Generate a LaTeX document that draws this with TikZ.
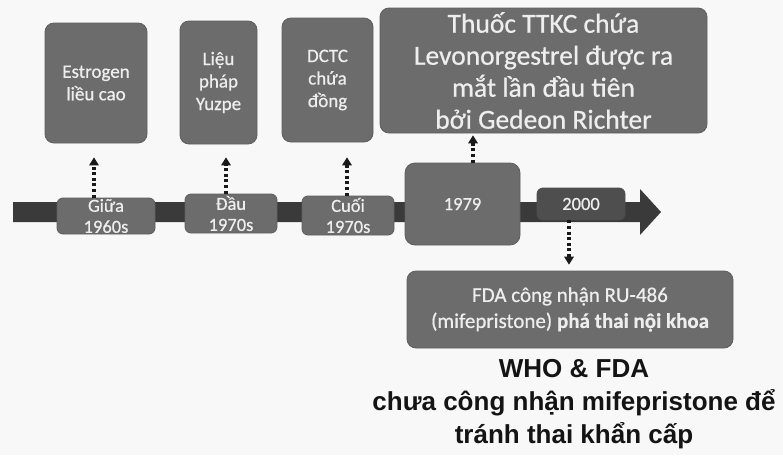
\documentclass[tikz,border=0pt]{standalone}
\usepackage{fontspec}
\setmainfont{Carlito}[FakeBold=0.6]
\newfontfamily\arialf{Liberation Sans}
\usetikzlibrary{arrows.meta,calc}
\definecolor{bg}{HTML}{F8F8F8}
\definecolor{boxgray}{HTML}{6C6C6C}
\definecolor{boxedge}{HTML}{5E5E5E}
\definecolor{bargray}{HTML}{3A3A3A}
\definecolor{darkbox}{HTML}{4E4E4E}
\definecolor{txtw}{HTML}{EEEEEE}
\tikzset{
  gbox/.style={fill=boxgray, draw=boxedge, line width=0.8pt, rounded corners=9pt,
    text=txtw, align=center, inner sep=2pt},
  conn/.style={draw=black!90, line width=3.2pt, dash pattern=on 3pt off 2.6pt,
    -{Triangle[width=10pt,length=8pt,line width=0pt]}},
  bartext/.style={font=\fontsize{18.5}{21}\selectfont},
  toptext/.style={font=\fontsize{19}{22.5}\selectfont},
}
\begin{document}
\begin{tikzpicture}[x=1pt,y=-1pt]
\useasboundingbox[fill=bg] (0,0) rectangle (783,455);
% timeline bar with arrow head
\fill[bargray] (13,202) -- (640,202) -- (640,189) -- (661,212) -- (640,235) -- (640,222) -- (13,222) -- cycle;
% top boxes
\node[gbox, minimum width=102pt, minimum height=120pt, toptext] (e1) at (96,83) {Estrogen\\liều cao};
\node[gbox, minimum width=77pt, minimum height=123pt, toptext] (e2) at (218.5,82.5) {Liệu\\pháp\\Yuzpe};
\node[gbox, minimum width=91pt, minimum height=124pt, toptext] (e3) at (327.5,80) {DCTC\\chứa\\đồng};
\node[gbox, minimum width=327pt, minimum height=125pt, font=\fontsize{27.5}{32}\selectfont] (e4) at (543.5,70.5) {Thuốc TTKC chứa\\Levonorgestrel được ra\\mắt lần đầu tiên\\bởi Gedeon Richter};
% timeline boxes
\node[gbox, rounded corners=6pt, minimum width=98pt, minimum height=36pt, bartext, inner sep=0pt] (t1) at (106,216) {Giữa\\1960s};
\node[gbox, rounded corners=6pt, minimum width=92pt, minimum height=39pt, bartext, inner sep=0pt] (t2) at (231,213.5) {Đầu\\1970s};
\node[gbox, rounded corners=6pt, minimum width=92pt, minimum height=39pt, bartext, inner sep=0pt] (t3) at (348,215.5) {Cuối\\1970s};
\node[gbox, rounded corners=10pt, minimum width=115pt, minimum height=82pt, bartext] (t4) at (462.5,204) {1979};
\node[gbox, fill=darkbox, draw=darkbox, rounded corners=6pt, minimum width=88pt, minimum height=32pt, bartext] (t5) at (581,204) {2000};
% FDA box
\node[gbox, minimum width=326pt, minimum height=77pt, font=\fontsize{21}{26}\selectfont] (fda) at (570,309.5) {FDA công nhận RU-486\\(mifepristone) \textbf{phá thai nội khoa}};
% bottom text
\node[font=\arialf\bfseries\fontsize{26}{33}\selectfont, align=center, text=black!92, anchor=north] (who) at (574,356) {WHO \& FDA\\chưa công nhận mifepristone để\\tránh thai khẩn cấp};
% connectors
\draw[conn, shorten >=14pt] ([xshift=-12pt]t1.north) -- ([xshift=-12pt]t1.north |- e1.south);
\draw[conn, shorten >=13pt] ([xshift=-5pt]t2.north) -- ([xshift=-5pt]t2.north |- e2.south);
\draw[conn, shorten >=15pt] ([xshift=-1pt]t3.north) -- ([xshift=-1pt]t3.north |- e3.south);
\draw[conn, shorten >=2pt] ([xshift=10.5pt]t4.north) -- ([xshift=10.5pt]t4.north |- e4.south);
\draw[conn, shorten >=6pt] ([xshift=-12pt]t5.south) -- ([xshift=-12pt]t5.south |- fda.north);
\end{tikzpicture}
\end{document}
